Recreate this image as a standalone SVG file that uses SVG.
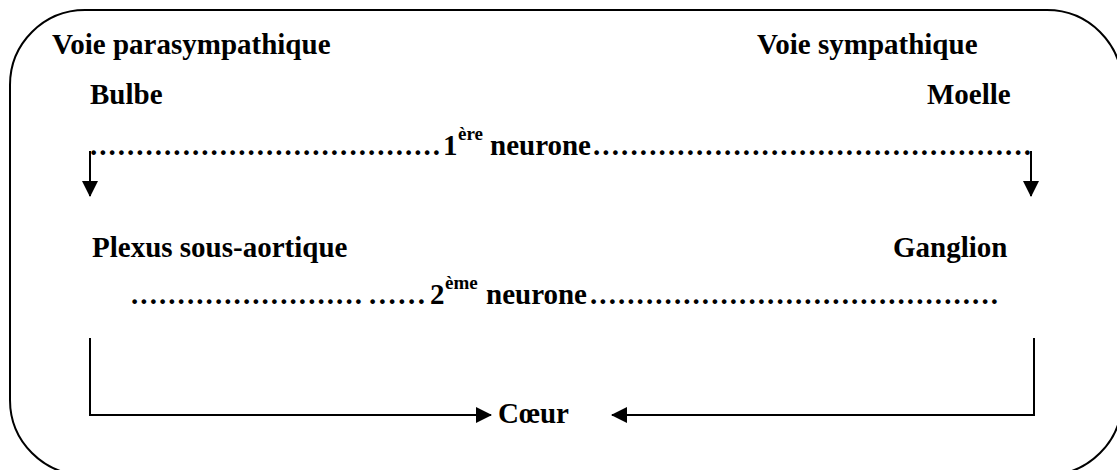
<svg xmlns="http://www.w3.org/2000/svg" width="1117" height="470" viewBox="0 0 1117 470">
  <style>
    .t { font-family: "Liberation Serif", "Times New Roman", serif; font-weight: bold; font-size: 29px; fill: #000; }
    .sup { font-size: 19px; }
    .ln { fill: none; stroke: #000; stroke-width: 2; }
    .frame { fill: #fff; stroke: #000; stroke-width: 2; }
  </style>
  <defs>
    <marker id="ah" viewBox="0 0 16 16" refX="15" refY="8" markerWidth="16" markerHeight="16" markerUnits="userSpaceOnUse" orient="auto">
      <path d="M0,0 L16,8 L0,16 z" fill="#000"/>
    </marker>
  </defs>

  <rect class="frame" x="10" y="10" width="1112" height="465" rx="75" ry="75"/>

  <g id="voie-parasympathique"><text class="t" x="52" y="54">Voie parasympathique</text></g>
  <g id="voie-sympathique"><text class="t" x="757" y="54">Voie sympathique</text></g>
  <g id="bulbe"><text class="t" x="90" y="104">Bulbe</text></g>
  <g id="moelle"><text class="t" x="927" y="104">Moelle</text></g>

  <g id="neurone1">
    <text class="t" x="90" y="155" textLength="350" lengthAdjust="spacing">......................................</text>
    <text class="t" x="443" y="155">1</text>
    <text class="t sup" x="458" y="140">ère</text>
    <text class="t" x="490" y="155">neurone</text>
    <text class="t" x="593" y="155" textLength="438" lengthAdjust="spacing">...............................................</text>
  </g>

  <g id="plexus"><text class="t" x="92" y="257">Plexus sous-aortique</text></g>
  <g id="ganglion"><text class="t" x="893" y="257">Ganglion</text></g>

  <g id="neurone2">
    <text class="t" x="131" y="304" textLength="231" lengthAdjust="spacing">.........................</text>
    <text class="t" x="369" y="304" textLength="56" lengthAdjust="spacing">......</text>
    <text class="t" x="430" y="304">2</text>
    <text class="t sup" x="445" y="289">ème</text>
    <text class="t" x="486" y="304">neurone</text>
    <text class="t" x="590" y="304" textLength="408" lengthAdjust="spacing">............................................</text>
  </g>

  <g id="coeur"><text class="t" x="498" y="423">Cœur</text></g>

  <g id="connectors">
    <path class="ln" d="M90,151 V196" marker-end="url(#ah)"/>
    <path class="ln" d="M1031,151 V196" marker-end="url(#ah)"/>
    <path class="ln" d="M90,338 V415 H491" marker-end="url(#ah)"/>
    <path class="ln" d="M1034,338 V415 H612" marker-end="url(#ah)"/>
  </g>
</svg>
